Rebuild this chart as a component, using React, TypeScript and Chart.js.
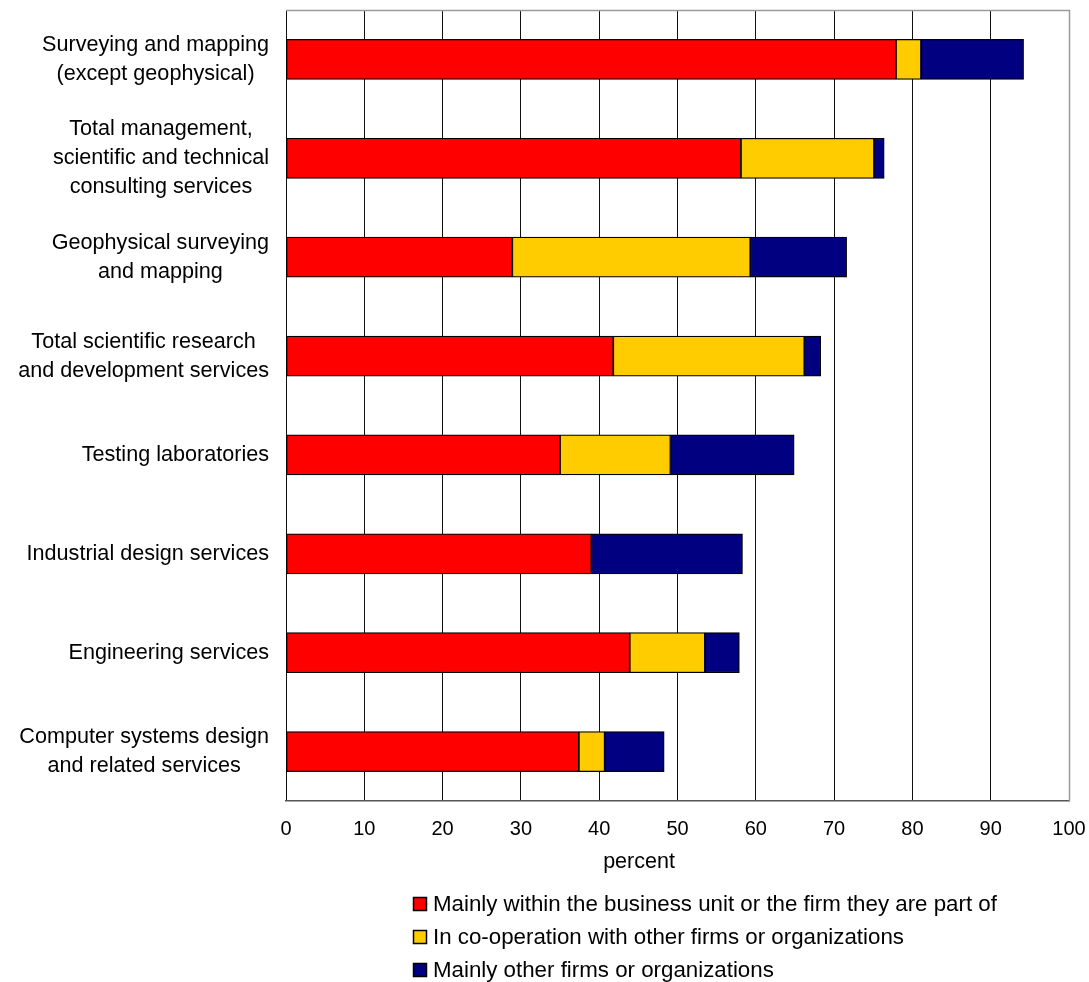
import React, { useEffect, useRef } from 'react';
import { Chart, registerables } from 'chart.js';

Chart.register(...registerables);

const categories: string[][] = [
  ['Surveying and mapping', '(except geophysical)'],
  ['Total management,', 'scientific and technical', 'consulting services'],
  ['Geophysical surveying', 'and mapping'],
  ['Total scientific research', 'and development services'],
  ['Testing laboratories'],
  ['Industrial design services'],
  ['Engineering services'],
  ['Computer systems design', 'and related services'],
];

const withinFirm = [77.9, 58.1, 28.9, 41.8, 35.0, 39.0, 43.9, 37.4];
const coOperation = [3.2, 17.0, 30.4, 24.4, 14.1, 0, 9.6, 3.3];
const otherFirms = [13.1, 1.3, 12.3, 2.1, 15.8, 19.3, 4.4, 7.6];

const seriesLabels = [
  'Mainly within the business unit or the firm they are part of',
  'In co-operation with other firms or organizations',
  'Mainly other firms or organizations',
];
const seriesColors = ['#FF0000', '#FFCC00', '#000080'];

const xMin = 0;
const xMax = 100;
const xStep = 10;
const xTitle = 'percent';

const FONT = 'Arial, "Liberation Sans", sans-serif';

const yLabelPlugin = {
  id: 'yLabels',
  afterDraw(chart: any) {
    const ctx = chart.ctx;
    const yScale = chart.scales.y;
    const right = chart.chartArea.left - 17;
    const lineH = 29;
    ctx.save();
    ctx.font = `21.6px ${FONT}`;
    ctx.fillStyle = '#000';
    ctx.textAlign = 'center';
    ctx.textBaseline = 'middle';
    categories.forEach((lines, i) => {
      const y = yScale.getPixelForValue(i);
      let maxW = 0;
      lines.forEach((l) => { maxW = Math.max(maxW, ctx.measureText(l).width); });
      const cx = right - maxW / 2;
      const n = lines.length;
      lines.forEach((l, j) => {
        ctx.fillText(l, cx, y + (j - (n - 1) / 2) * lineH);
      });
    });
    // x-axis title
    ctx.font = `21.5px ${FONT}`;
    ctx.fillText(xTitle, 639, 862);
    ctx.restore();
  },
};

const frameLegendPlugin = {
  id: 'frameLegend',
  beforeDatasetsDraw(chart: any) {
    const { ctx, chartArea } = chart;
    ctx.save();
    ctx.strokeStyle = '#9a9a9a';
    ctx.lineWidth = 1.5;
    ctx.beginPath();
    ctx.moveTo(chartArea.left, chartArea.top + 0.5);
    ctx.lineTo(chartArea.right + 0.5, chartArea.top + 0.5);
    ctx.lineTo(chartArea.right + 0.5, chartArea.bottom);
    ctx.stroke();
    ctx.restore();
  },
  afterDraw(chart: any) {
    const ctx = chart.ctx;
    const rowYs = [904, 937, 970];
    ctx.save();
    ctx.font = `22.3px ${FONT}`;
    ctx.textBaseline = 'middle';
    ctx.textAlign = 'left';
    chart.data.datasets.forEach((ds: any, i: number) => {
      const y = rowYs[i];
      ctx.fillStyle = ds.backgroundColor;
      ctx.fillRect(413.5, y - 6.5, 13, 13);
      ctx.strokeStyle = '#000';
      ctx.lineWidth = 1.5;
      ctx.strokeRect(413.5, y - 6.5, 13, 13);
      ctx.fillStyle = '#000';
      ctx.fillText(ds.label, 433, y + 1);
    });
    ctx.restore();
  },
};

export default function App() {
  const canvasRef = useRef<HTMLCanvasElement | null>(null);

  useEffect(() => {
    if (!canvasRef.current) return;
    const datasetsSrc = [withinFirm, coOperation, otherFirms];
    const chart = new Chart(canvasRef.current, {
      type: 'bar',
      data: {
        labels: categories.map((c) => c.join(' ')),
        datasets: datasetsSrc.map((d, i) => ({
          label: seriesLabels[i],
          data: d,
          backgroundColor: seriesColors[i],
          borderColor: '#000',
          borderWidth: 1.2,
          borderSkipped: false,
          barThickness: 40,
        })),
      },
      options: {
        indexAxis: 'y',
        animation: false,
        responsive: false,
        devicePixelRatio: 1,
        layout: { padding: { left: 286, top: 10, right: 20, bottom: 105 } },
        plugins: {
          legend: { display: false },
          tooltip: { enabled: false },
        },
        scales: {
          y: {
            stacked: true,
            display: false,
          },
          x: {
            stacked: true,
            min: xMin,
            max: xMax,
            afterFit: (s: any) => { s.height = 76; },
            ticks: {
              stepSize: xStep,
              padding: 0,
              color: '#000',
              font: { family: FONT, size: 20 },
            },
            grid: {
              color: '#111',
              lineWidth: 1,
              drawTicks: true,
              tickLength: 16,
              tickColor: 'rgba(0,0,0,0)',
            },
            border: { display: true, color: '#555', width: 1.5 },
            title: { display: false },
          },
        },
      },
      plugins: [frameLegendPlugin, yLabelPlugin],
    });
    return () => chart.destroy();
  }, []);

  return (
    <div style={{ position: 'fixed', left: 0, top: 0, width: 1089, height: 982, background: '#fff' }}>
      <canvas ref={canvasRef} width={1089} height={982} style={{ display: 'block' }} />
    </div>
  );
}
